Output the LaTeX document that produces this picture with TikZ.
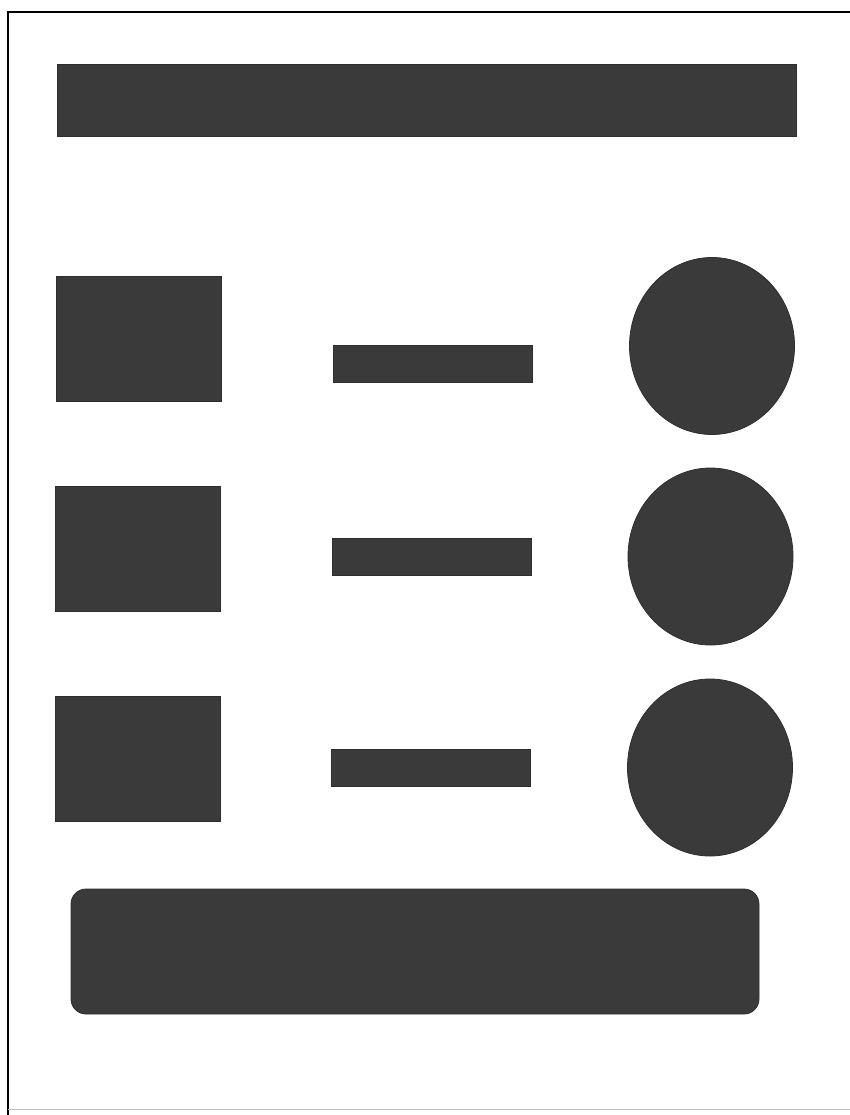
\documentclass[tikz,border=0pt]{standalone}
\usepackage{tikz}
\usetikzlibrary{shapes.geometric,positioning}

\definecolor{shade}{HTML}{3A3A3A}

\tikzset{
  blk/.style={fill=shade, draw=shade!80!black, line width=0.8pt, inner sep=0pt, outer sep=0pt},
  sq/.style={blk, minimum width=165pt, minimum height=125pt},
  bar/.style={blk, minimum width=199pt, minimum height=37pt},
  disc/.style={blk, ellipse, minimum width=165pt, minimum height=177pt}
}

\begin{document}
\begin{tikzpicture}[x=1pt,y=-1pt]
        \useasboundingbox (0,0) rectangle (850,1115);
        \draw[line width=2pt] (8,1115) -- (8,12) -- (850,12);
        \draw[black!25, line width=0.6pt] (8,1109) -- (850,1109);
        \node (head) [blk, minimum width=739pt, minimum height=72pt] at (426.5,100) {};
        \node (sqa) [sq] at (139,338.5) {};
        \node (bara) [bar] at (432.5,363.5) {};
        \node (disca) [disc] at (712,346) {};
        \node (sqb) [sq] at (137.5,549) {};
        \node (barb) [bar] at (431.5,556.5) {};
        \node (discb) [disc] at (710.5,556.5) {};
        \node (sqc) [sq] at (137.5,759) {};
        \node (barc) [bar] at (430.5,767.5) {};
        \node (discc) [disc] at (710,767.5) {};
        \node (foot) [blk, rounded corners=15pt, minimum width=688pt, minimum height=125pt] at (415,951.5) {};
    \end{tikzpicture}
\end{document}
